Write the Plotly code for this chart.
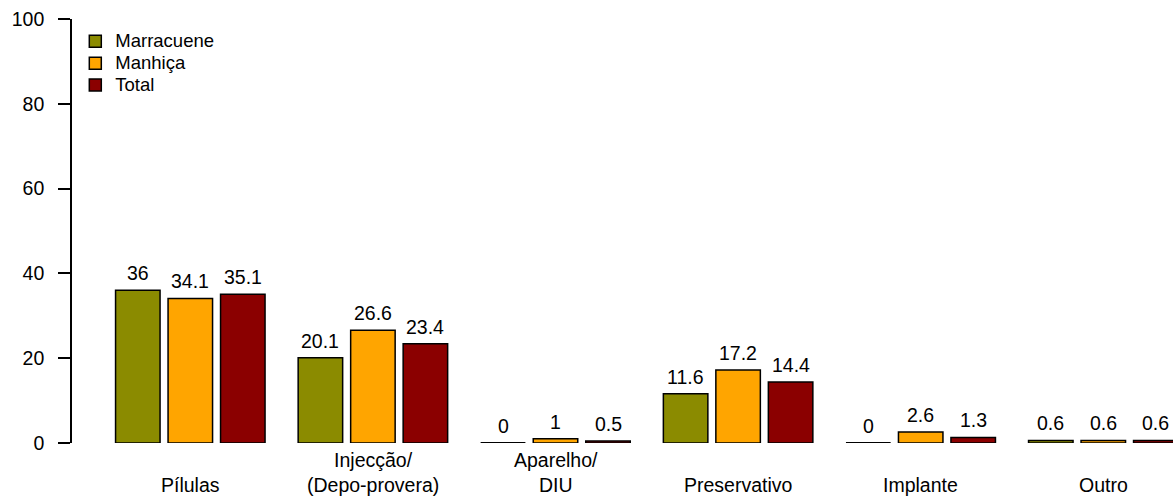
import plotly.graph_objects as go

# Contraceptive method use (%) by district
categories = ["Pílulas", "Injecção/<br>(Depo-provera)", "Aparelho/<br>DIU",
              "Preservativo", "Implante", "Outro"]
series_names = ["Marracuene", "Manhiça", "Total"]
marracuene = [36, 20.1, 0, 11.6, 0, 0.6]
manhica = [34.1, 26.6, 1, 17.2, 2.6, 0.6]
total = [35.1, 23.4, 0.5, 14.4, 1.3, 0.6]
y_ticks = [0, 20, 40, 60, 80, 100]

colors = ["#8B8B00", "#FFA500", "#8B0000"]
series_values = [marracuene, manhica, total]

FONT = "Liberation Sans, Arial, sans-serif"
FS = 19.5
slot = 0.2875      # distance between neighbouring bars within a group
bar_w = 0.2437     # bar width in category units

fig = go.Figure()
annotations = []
zero_x, zero_y = [], []

for j, (name, vals, col) in enumerate(zip(series_names, series_values, colors)):
    xs = [i + (j - 1) * slot for i in range(len(categories))]
    fig.add_trace(go.Bar(
        x=xs, y=vals, width=bar_w, name=f'<span style="font-size:18.5px">{name}</span>',
        marker=dict(color=col, line=dict(color="black", width=1.5)),
        hoverinfo="skip",
    ))
    for x, v in zip(xs, vals):
        annotations.append(dict(
            x=x, y=v, xref="x", yref="y", text=f"{v:g}", showarrow=False,
            yanchor="bottom", yshift=4, font=dict(family=FONT, size=FS, color="black"),
        ))
        if v == 0:
            zero_x += [x - bar_w / 2, x + bar_w / 2, None]
            zero_y += [v, v, None]

# zero-height bars are drawn as a flat outline on the baseline
fig.add_trace(go.Scatter(
    x=zero_x, y=zero_y, mode="lines", line=dict(color="black", width=2),
    showlegend=False, hoverinfo="skip", cliponaxis=False,
))

for i, cat in enumerate(categories):
    annotations.append(dict(
        x=i, y=0, xref="x", yref="y", text=cat, showarrow=False,
        yanchor="bottom", yshift=-55, font=dict(family=FONT, size=FS, color="black"),
    ))

fig.update_layout(
    width=1173, height=497,
    margin=dict(l=72, r=0, t=19, b=54),
    plot_bgcolor="white", paper_bgcolor="white",
    barmode="overlay",
    font=dict(family=FONT, size=FS, color="black"),
    showlegend=True,
    legend=dict(
        x=0.003, y=0.985, xanchor="left", yanchor="top",
        font=dict(family=FONT, size=14.5, color="black"),
        bgcolor="rgba(0,0,0,0)", traceorder="normal",
    ),
    annotations=annotations,
)
fig.update_xaxes(
    range=[-0.6479, 5.3817], showline=False, showgrid=False, zeroline=False,
    showticklabels=False, ticks="",
)
fig.update_yaxes(
    range=[0, 100], tickvals=y_ticks, showline=True, linecolor="black", linewidth=1.6,
    ticks="outside", ticklen=12, tickwidth=1.6, tickcolor="black",
    showgrid=False, zeroline=False, ticklabelstandoff=10,
    tickfont=dict(family=FONT, size=FS, color="black"),
)

fig.write_html("out.html")
